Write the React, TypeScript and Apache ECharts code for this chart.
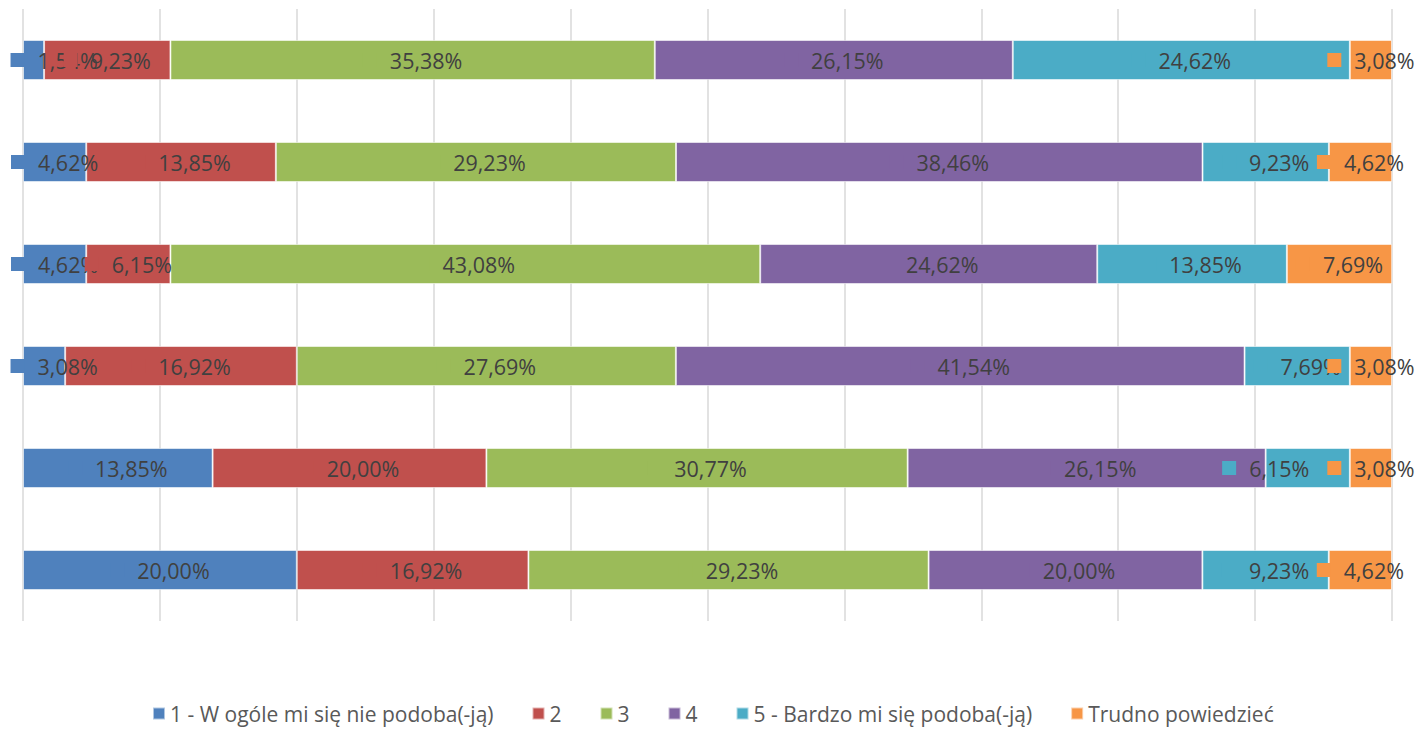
import React, { useEffect, useRef } from "react";
import * as echarts from "echarts";

// rows top -> bottom
const categories = ["A", "B", "C", "D", "E", "F"];
const seriesNames = [
  "1 - W ogóle mi się nie podoba(-ją)",
  "2",
  "3",
  "4",
  "5 - Bardzo mi się podoba(-ją)",
  "Trudno powiedzieć",
];
const s1 = [1.54, 4.62, 4.62, 3.08, 13.85, 20.0];
const s2 = [9.23, 13.85, 6.15, 16.92, 20.0, 16.92];
const s3 = [35.38, 29.23, 43.08, 27.69, 30.77, 29.23];
const s4 = [26.15, 38.46, 24.62, 41.54, 26.15, 20.0];
const s5 = [24.62, 9.23, 13.85, 7.69, 6.15, 9.23];
const s6 = [3.08, 4.62, 7.69, 3.08, 3.08, 4.62];
const seriesValues = [s1, s2, s3, s4, s5, s6];
const colors = ["#4F81BD", "#C0504D", "#9BBB59", "#8064A2", "#4BACC6", "#F79646"];
const xTicks = [0, 10, 20, 30, 40, 50, 60, 70, 80, 90, 100];

// manually moved label in the source (series index, row index, dx)
const movedLabels: [number, number, number][] = [[4, 4, -42]];

const FONT = "'Open Sans', 'Noto Sans', sans-serif";
const LABEL_SIZE = 21.5;

export default function App() {
  const ref = useRef<HTMLDivElement>(null);
  useEffect(() => {
    if (!ref.current) return;
    const chart = echarts.init(ref.current, null, { renderer: "svg" });
    const gridLeft = 23;
    const gridRight = 24;
    const plotW = 1416 - gridLeft - gridRight;
    const pxPer = plotW / (xTicks[xTicks.length - 1] - xTicks[0]);
    const fmt = (v: number) => v.toFixed(2).replace(".", ",") + "%";

    const series = seriesValues.map((vals, si) => ({
      name: seriesNames[si],
      type: "bar",
      stack: "total",
      barWidth: 40,
      itemStyle: { color: colors[si], borderColor: "rgba(255,255,255,0.55)", borderWidth: 1 },
      label: {
        show: true,
        position: "inside",
        formatter: (p: any) => "{k| }{t|" + fmt(p.value) + "}",
        rich: {
          k: { width: 14, height: 14, backgroundColor: colors[si] },
          t: {
            fontSize: LABEL_SIZE,
            fontFamily: FONT,
            color: "#404040",
            padding: [0, 0, 0, 13],
          },
        },
      },
      data: vals.map((v, ri) => {
        const mv = movedLabels.find((m) => m[0] === si && m[1] === ri);
        if (mv) return { value: v, label: { offset: [mv[2], 0] } };
        // keep label inside chart area (like the source does)
        if (si === 0) {
          const textW = fmt(v).length * LABEL_SIZE * 0.57;
          const w = 27 + textW;
          const center = gridLeft + (v / 2) * pxPer;
          const leftEdge = center - w / 2;
          if (leftEdge < 10) {
            return { value: v, label: { offset: [10 - leftEdge, 0] } };
          }
        }
        return v;
      }),
    }));

    chart.setOption({
      animation: false,
      grid: { left: gridLeft, right: gridRight, top: 9, bottom: 125, containLabel: false },
      xAxis: {
        type: "value",
        min: 0,
        max: 100,
        interval: 10,
        axisLabel: { show: false },
        axisLine: { show: false },
        axisTick: { show: false },
        splitLine: { show: true, lineStyle: { color: "#D9D9D9", width: 1.5 } },
      },
      yAxis: {
        type: "category",
        data: categories,
        inverse: true,
        axisLabel: { show: false },
        axisLine: { show: false },
        axisTick: { show: false },
      },
      legend: {
        left: 147,
        top: 698,
        itemWidth: 12,
        itemHeight: 12,
        itemGap: 38,
        icon: "rect",
        textStyle: { fontSize: 21, color: "#595959", fontFamily: FONT },
        data: seriesNames,
      },
      series,
    });
    return () => chart.dispose();
  }, []);
  return <div ref={ref} style={{ width: 1416, height: 746, position: "absolute", left: 0, top: 0 }} />;
}
